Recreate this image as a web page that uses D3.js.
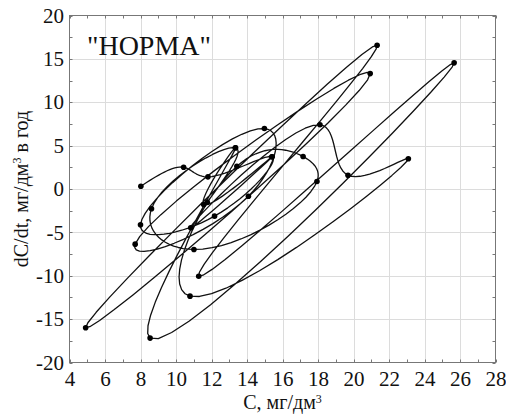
<!DOCTYPE html>
<html>
<head>
<meta charset="utf-8">
<script src="https://cdn.jsdelivr.net/npm/d3@7"></script>
<style>
  body { margin: 0; background: #fff; }
</style>
</head>
<body>
<svg id="chart" width="506" height="419"></svg>
<script>
// Yearly concentration C, mg/dm3, in time order
const concentration = [8.02, 10.43, 11.80, 15.41, 12.17, 8.00, 14.98, 14.08, 7.70, 20.94,
                       4.91, 21.33, 11.28, 25.67, 8.54, 13.35, 11.56, 15.41, 10.83, 18.11,
                       19.69, 23.09, 10.79, 13.43, 17.16, 17.94, 11.01, 8.62, 13.35, 11.76];
// Rate of change dC/dt, mg/dm3 per year
const rate = [0.32, 2.51, 1.40, 3.71, -3.13, -4.12, 6.97, -0.83, -6.36, 13.30,
              -15.99, 16.57, -10.05, 14.54, -17.19, 4.75, -1.79, 3.71, -4.47, 7.40,
              1.59, 3.48, -12.35, 2.63, 3.74, 0.86, -6.97, -2.28, 4.75, -1.52];

const xTicks = [4, 6, 8, 10, 12, 14, 16, 18, 20, 22, 24, 26, 28];
const yTicks = [-20, -15, -10, -5, 0, 5, 10, 15, 20];
const xMinor = d3.range(4, 28.01, 1);
const yMinor = d3.range(-20, 20.01, 2.5);

const serif = '"Liberation Serif", "Times New Roman", Times, "DejaVu Serif", serif';
const points = concentration.map((c, i) => ({ c, r: rate[i] }));

const svg = d3.select("#chart");
const plotL = 69.5, plotR = 495.5, plotT = 15.5, plotB = 362.5;

const x = d3.scaleLinear().domain([4, 28]).range([plotL, plotR]);
const y = d3.scaleLinear().domain([-20, 20]).range([plotB, plotT]);

// Natural cubic spline through the yearly points (centripetal parametrisation),
// sampled into a polyline of `steps` pieces per year.
function spline(pts, steps) {
  const n = pts.length;
  const t = [0];
  for (let i = 1; i < n; i++) {
    const dx = x(pts[i].c) - x(pts[i - 1].c), dy = y(pts[i].r) - y(pts[i - 1].r);
    t.push(t[i - 1] + Math.sqrt(Math.hypot(dx, dy)));
  }
  const h = d3.range(n - 1).map(i => t[i + 1] - t[i]);
  function second(v) {
    const a = new Array(n).fill(0), b = new Array(n).fill(1), c = new Array(n).fill(0), d = new Array(n).fill(0);
    for (let i = 1; i < n - 1; i++) {
      a[i] = h[i - 1]; b[i] = 2 * (h[i - 1] + h[i]); c[i] = h[i];
      d[i] = 6 * ((v[i + 1] - v[i]) / h[i] - (v[i] - v[i - 1]) / h[i - 1]);
    }
    for (let i = 1; i < n; i++) {
      const m = a[i] / b[i - 1];
      b[i] -= m * c[i - 1]; d[i] -= m * d[i - 1];
    }
    const M = new Array(n).fill(0);
    M[n - 1] = d[n - 1] / b[n - 1];
    for (let i = n - 2; i >= 0; i--) M[i] = (d[i] - c[i] * M[i + 1]) / b[i];
    M[0] = 0; M[n - 1] = 0;
    return M;
  }
  const xs = pts.map(p => p.c), ys = pts.map(p => p.r);
  const Mx = second(xs), My = second(ys);
  const out = [];
  for (let i = 0; i < n - 1; i++) {
    const hi = h[i];
    for (let k = 0; k < steps; k++) {
      const s = t[i] + hi * k / steps;
      const A = t[i + 1] - s, B = s - t[i];
      const ev = (v, M) => M[i] * A * A * A / (6 * hi) + M[i + 1] * B * B * B / (6 * hi)
        + (v[i] / hi - M[i] * hi / 6) * A + (v[i + 1] / hi - M[i + 1] * hi / 6) * B;
      out.push({ c: ev(xs, Mx), r: ev(ys, My) });
    }
  }
  out.push(pts[n - 1]);
  return out;
}

// grid
const grid = svg.append("g").attr("stroke", "#dcdcdc").attr("stroke-width", 1);
grid.selectAll(".gx").data(xTicks.slice(1, -1)).join("line")
  .attr("x1", d => Math.round(x(d)) + 0.5).attr("x2", d => Math.round(x(d)) + 0.5)
  .attr("y1", plotT).attr("y2", plotB);
grid.selectAll(".gy").data(yTicks.slice(1, -1)).join("line")
  .attr("y1", d => Math.round(y(d)) + 0.5).attr("y2", d => Math.round(y(d)) + 0.5)
  .attr("x1", plotL).attr("x2", plotR);

// inner minor ticks on all four sides
const tk = svg.append("g").attr("stroke", "#777").attr("stroke-width", 1);
const tl = 3;
xMinor.forEach(v => {
  const px = Math.round(x(v)) + 0.5;
  tk.append("line").attr("x1", px).attr("x2", px).attr("y1", plotB).attr("y2", plotB - tl);
  tk.append("line").attr("x1", px).attr("x2", px).attr("y1", plotT).attr("y2", plotT + tl);
});
yMinor.forEach(v => {
  const py = Math.round(y(v)) + 0.5;
  tk.append("line").attr("y1", py).attr("y2", py).attr("x1", plotL).attr("x2", plotL + tl);
  tk.append("line").attr("y1", py).attr("y2", py).attr("x1", plotR).attr("x2", plotR - tl);
});

// frame
svg.append("rect").attr("x", plotL).attr("y", plotT)
  .attr("width", plotR - plotL).attr("height", plotB - plotT)
  .attr("fill", "none").attr("stroke", "#777").attr("stroke-width", 1);

// tick labels
const xAxis = svg.append("g").attr("transform", `translate(0,${plotB})`)
  .call(d3.axisBottom(x).tickValues(xTicks).tickSize(0).tickPadding(9).tickFormat(d3.format("d")));
const yAxis = svg.append("g").attr("transform", `translate(${plotL},0)`)
  .call(d3.axisLeft(y).tickValues(yTicks).tickSize(0).tickPadding(5.5).tickFormat(d => d < 0 ? "-" + Math.abs(d) : d));
[xAxis, yAxis].forEach(a => {
  a.select(".domain").remove();
  a.attr("font-family", null);
  a.selectAll("text").style("font-family", serif).style("font-size", "21px").style("fill", "#111");
});
xAxis.selectAll("text").attr("dy", "0.68em");

// phase trajectory
const poly = d3.line().x(d => x(d.c)).y(d => y(d.r));
svg.append("path").datum(spline(points, 16)).attr("d", poly)
  .attr("fill", "none").attr("stroke", "#111").attr("stroke-width", 1.3)
  .attr("stroke-linejoin", "round");

svg.append("g").selectAll("circle").data(points).join("circle")
  .attr("cx", d => x(d.c)).attr("cy", d => y(d.r)).attr("r", 2.8).attr("fill", "#000");

// titles
svg.append("text").attr("x", (plotL + plotR) / 2).attr("y", 409).attr("text-anchor", "middle")
  .style("font-family", serif).style("font-size", "20px").style("fill", "#111")
  .html('С, мг/дм<tspan dy="-6" font-size="12">3</tspan>');

svg.append("text").attr("transform", `translate(28,${(plotT + plotB) / 2}) rotate(-90)`)
  .attr("text-anchor", "middle")
  .style("font-family", serif).style("font-size", "20px").style("fill", "#111")
  .html('dC/dt, мг/дм<tspan dy="-7" font-size="12">3</tspan><tspan dy="7"> в год</tspan>');

svg.append("text").attr("x", 87).attr("y", 55)
  .style("font-family", serif).style("font-size", "28px").style("fill", "#111")
  .text('"НОРМА"');
</script>
</body>
</html>
